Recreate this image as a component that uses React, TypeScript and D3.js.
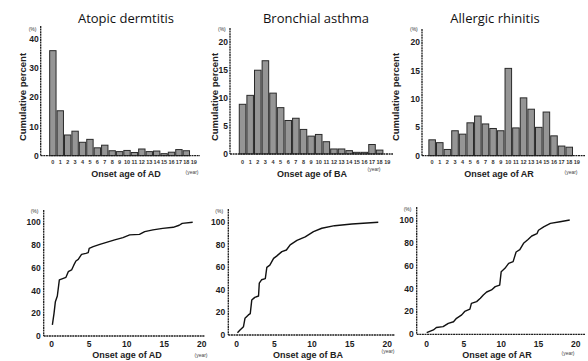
import { useEffect, useRef } from "react";
import * as d3 from "d3";

// onset age categories (years)
const ages = ["0", "1", "2", "3", "4", "5", "6", "7", "8", "9", "10", "11", "12", "13", "14", "15", "16", "17", "18", "19"];

// percent of patients per onset age
const adPercent = [36, 15.4, 7.1, 8.4, 4.6, 5.6, 2.7, 3.6, 1.7, 1.4, 1.8, 1.1, 2.3, 1.4, 1.6, 0.7, 1.2, 2.1, 1.7, 0];
const baPercent = [8.9, 10.5, 15, 16.7, 10.9, 8.3, 6, 6.4, 4.4, 3.2, 3.5, 2.2, 0.9, 0.9, 0.6, 0.3, 0.3, 1.7, 0.7, 0];
const arPercent = [2.8, 2.3, 1.1, 4.4, 3.8, 5.8, 7, 5.6, 4.8, 4.4, 15.4, 4.9, 10.2, 8.2, 5, 7.7, 3.5, 1.7, 1.5, 0];

// cumulative curves (age, percent)
const adCumAge = [0.09, 0.31, 0.49, 0.75, 1.02, 1.55, 1.9, 2.21, 2.65, 2.96, 3.23, 3.54, 3.98, 4.56, 4.87, 5.0, 5.53, 6.42, 7.3, 8.4, 9.5, 10.4, 11.7, 12.4, 13.5, 14.8, 16.2, 17.0, 17.4, 18.8];
const adCumPct = [9.7, 19.9, 30.2, 35.2, 49.3, 50.7, 51.6, 56.6, 58.1, 62.5, 66, 67.4, 71.8, 72.7, 73.3, 77.1, 78.6, 80.6, 82.4, 84.5, 86.5, 88.9, 89.4, 91.8, 93.3, 94.7, 95.6, 97.4, 99.1, 100];

const baCumAge = [0.1, 0.44, 0.9, 1.1, 1.55, 1.8, 2.0, 2.4, 2.9, 3.0, 3.3, 3.8, 4.0, 4.4, 4.9, 5.3, 6.0, 6.6, 7.1, 8.0, 9.1, 10.2, 11.3, 13, 15.3, 18.8];
const baCumPct = [2, 4.4, 7.4, 14.8, 17.8, 19, 31, 33.4, 34.6, 46, 49, 50, 60, 62, 68, 70, 74, 75.4, 80, 84, 87, 91.7, 94.7, 97, 98.5, 100];

const arCumAge = [0, 0.9, 1.3, 2.2, 2.9, 3.6, 4.0, 4.7, 5.1, 5.8, 6.0, 6.7, 7.2, 7.6, 8.05, 8.7, 9.2, 9.8, 10.0, 10.5, 11, 11.6, 12, 12.5, 13, 13.6, 14.1, 14.8, 15, 15.7, 16.6, 17.9, 19.2];
const arCumPct = [1.5, 3.8, 6, 6.7, 9.6, 11, 14, 17, 20, 22, 27, 28.6, 31.5, 34.4, 37, 38.8, 41.7, 43, 54.8, 57.7, 62, 63.6, 72, 74, 79.6, 83, 86, 88, 91, 94, 97, 98.5, 100];

const histTicksAD = [0, 10, 20, 30, 40];
const histTicksSmall = [0, 5, 10, 15, 20];
const cumYTicks = [0, 20, 40, 60, 80, 100];
const cumXTicks = [0, 5, 10, 15, 20];

const INK = "#1c1c1c";
const boldFont = "'Liberation Sans', Arial, sans-serif";

const histPanels = [
  { title: "Atopic dermtitis", titleX: 126, abbr: "AD", values: adPercent, ticks: histTicksAD,
    axisX: 40.7, axisTop: 26, axisEnd: 200, band: [49.3, 197.3], y0: 155.7, yTopVal: 40, yTopPx: 39,
    yTitleX: 22.7, xTitleX: 126, yearX: 192, yearY: 174 },
  { title: "Bronchial asthma", titleX: 316, abbr: "BA", values: baPercent, ticks: histTicksSmall,
    axisX: 230, axisTop: 28, axisEnd: 393, band: [238.9, 390.9], y0: 154, yTopVal: 20, yTopPx: 42.3,
    yTitleX: 214, xTitleX: 312, yearX: 374, yearY: 171 },
  { title: "Allergic rhinitis", titleX: 495, abbr: "AR", values: arPercent, ticks: histTicksSmall,
    axisX: 422, axisTop: 29, axisEnd: 585, band: [428.5, 580.5], y0: 155.7, yTopVal: 20, yTopPx: 42.3,
    yTitleX: 395, xTitleX: 499, yearX: 571, yearY: 174 },
];

const cumPanels = [
  { abbr: "AD", ages: adCumAge, pct: adCumPct, axisX: 43.7, axisTop: 210, axisEnd: 205,
    x0: 51.7, x20: 201.7, y0: 336, y100: 222.3, xTitleX: 127, yearX: 201, yearY: 357 },
  { abbr: "BA", ages: baCumAge, pct: baCumPct, axisX: 228.3, axisTop: 209, axisEnd: 395,
    x0: 236.7, x20: 387.3, y0: 335, y100: 222.3, xTitleX: 308, yearX: 388, yearY: 353 },
  { abbr: "AR", ages: arCumAge, pct: arCumPct, axisX: 416.7, axisTop: 207, axisEnd: 585,
    x0: 426.7, x20: 575.7, y0: 334.3, y100: 220, xTitleX: 497, yearX: 568, yearY: 355 },
];

const App = () => {
  const svgRef = useRef<SVGSVGElement>(null);

  useEffect(() => {
    if (!svgRef.current) return;
    const svg = d3.select(svgRef.current);
    svg.selectAll("*").remove();

    svg.append("rect").attr("width", 588).attr("height", 361).attr("fill", "#fff");

    // Top row: histograms
    histPanels.forEach((p) => {
      const g = svg.append("g");
      const x = d3.scaleBand<string>().domain(ages).range(p.band as [number, number]).paddingInner(0.14).paddingOuter(0.05);
      const y = d3.scaleLinear().domain([0, p.yTopVal]).range([p.y0, p.yTopPx]);

      g.append("text")
        .attr("x", p.titleX).attr("y", 23)
        .attr("text-anchor", "middle")
        .style("font-family", "'Open Sans', sans-serif")
        .style("font-size", "13px")
        .attr("fill", "#111")
        .text(p.title);

      // bars
      g.selectAll("rect.bar")
        .data(p.values.map((v, i) => ({ age: ages[i], v })).filter((d) => d.v > 0))
        .enter()
        .append("rect")
        .attr("x", (d) => x(d.age)!)
        .attr("y", (d) => y(d.v))
        .attr("width", x.bandwidth())
        .attr("height", (d) => p.y0 - y(d.v))
        .attr("fill", "#959595")
        .attr("stroke", "#2a2a2a")
        .attr("stroke-width", 1);

      // axes
      g.append("line")
        .attr("x1", p.axisX).attr("x2", p.axisX)
        .attr("y1", p.axisTop).attr("y2", p.y0)
        .attr("stroke", INK).attr("stroke-width", 1.3).attr("stroke-dasharray", "2,0.6");
      g.append("line")
        .attr("x1", p.axisX).attr("x2", p.axisEnd)
        .attr("y1", p.y0).attr("y2", p.y0)
        .attr("stroke", INK).attr("stroke-width", 1.3).attr("stroke-dasharray", "2,0.6");

      g.selectAll("text.ytick")
        .data(p.ticks)
        .enter()
        .append("text")
        .attr("x", p.axisX - 2)
        .attr("y", (d) => y(d) + 3)
        .attr("text-anchor", "end")
        .style("font-family", boldFont)
        .style("font-size", "8.5px")
        .style("font-weight", "bold")
        .attr("fill", INK)
        .text((d) => d);

      g.append("text")
        .attr("x", p.axisX - 12).attr("y", 31)
        .style("font-family", boldFont)
        .style("font-size", "5px")
        .attr("fill", "#333")
        .text("(%)");

      g.selectAll("text.xtick")
        .data(ages)
        .enter()
        .append("text")
        .attr("x", (d) => x(d)! + x.bandwidth() / 2)
        .attr("y", 164)
        .attr("text-anchor", "middle")
        .style("font-family", boldFont)
        .style("font-size", "5.5px")
        .style("font-weight", "bold")
        .attr("fill", "#333")
        .text((d) => d);

      g.append("text")
        .attr("x", p.xTitleX).attr("y", 177)
        .attr("text-anchor", "middle")
        .style("font-family", boldFont)
        .style("font-size", "9px")
        .style("font-weight", "bold")
        .attr("fill", "#222")
        .text(`Onset age of ${p.abbr}`);

      g.append("text")
        .attr("x", p.yearX).attr("y", p.yearY)
        .attr("text-anchor", "middle")
        .style("font-family", boldFont)
        .style("font-size", "5px")
        .attr("fill", "#444")
        .text("(year)");

      g.append("text")
        .attr("transform", `translate(${p.yTitleX + 3.5}, 97) rotate(-90)`)
        .attr("text-anchor", "middle")
        .style("font-family", boldFont)
        .style("font-size", "9.5px")
        .style("font-weight", "bold")
        .attr("fill", "#222")
        .text("Cumulative percent");
    });

    // Bottom row: cumulative curves
    cumPanels.forEach((p) => {
      const g = svg.append("g");
      const x = d3.scaleLinear().domain([0, 20]).range([p.x0, p.x20]);
      const y = d3.scaleLinear().domain([0, 100]).range([p.y0, p.y100]);

      g.append("line")
        .attr("x1", p.axisX).attr("x2", p.axisX)
        .attr("y1", p.axisTop).attr("y2", p.y0)
        .attr("stroke", INK).attr("stroke-width", 1.3).attr("stroke-dasharray", "2,0.6");
      g.append("line")
        .attr("x1", p.axisX).attr("x2", p.axisEnd)
        .attr("y1", p.y0).attr("y2", p.y0)
        .attr("stroke", INK).attr("stroke-width", 1.3).attr("stroke-dasharray", "2,0.6");

      g.selectAll("text.ytick")
        .data(cumYTicks)
        .enter()
        .append("text")
        .attr("x", p.axisX - 3)
        .attr("y", (d) => y(d) + 3)
        .attr("text-anchor", "end")
        .style("font-family", boldFont)
        .style("font-size", "8.5px")
        .style("font-weight", "bold")
        .attr("fill", INK)
        .text((d) => d);

      g.append("text")
        .attr("x", p.axisX - 13).attr("y", p.y100 - 9)
        .style("font-family", boldFont)
        .style("font-size", "5px")
        .attr("fill", "#333")
        .text("(%)");

      g.selectAll("text.xtick")
        .data(cumXTicks)
        .enter()
        .append("text")
        .attr("x", (d) => x(d))
        .attr("y", 347)
        .attr("text-anchor", "middle")
        .style("font-family", boldFont)
        .style("font-size", "8.5px")
        .style("font-weight", "bold")
        .attr("fill", INK)
        .text((d) => d);

      g.append("text")
        .attr("x", p.xTitleX).attr("y", 358)
        .attr("text-anchor", "middle")
        .style("font-family", boldFont)
        .style("font-size", "9px")
        .style("font-weight", "bold")
        .attr("fill", "#222")
        .text(`Onset age of ${p.abbr}`);

      g.append("text")
        .attr("x", p.yearX).attr("y", p.yearY)
        .attr("text-anchor", "middle")
        .style("font-family", boldFont)
        .style("font-size", "5px")
        .attr("fill", "#444")
        .text("(year)");

      const line = d3
        .line<number>()
        .x((d) => x(d))
        .y((_, i) => y(p.pct[i]));

      g.append("path")
        .attr("d", line(p.ages)!)
        .attr("fill", "none")
        .attr("stroke", "#111")
        .attr("stroke-width", 1.4)
        .attr("stroke-linejoin", "round");
    });
  }, []);

  return (
    <svg
      ref={svgRef}
      width={588}
      height={361}
      style={{ position: "absolute", left: 0, top: 0, display: "block" }}
    />
  );
};

export default App;
